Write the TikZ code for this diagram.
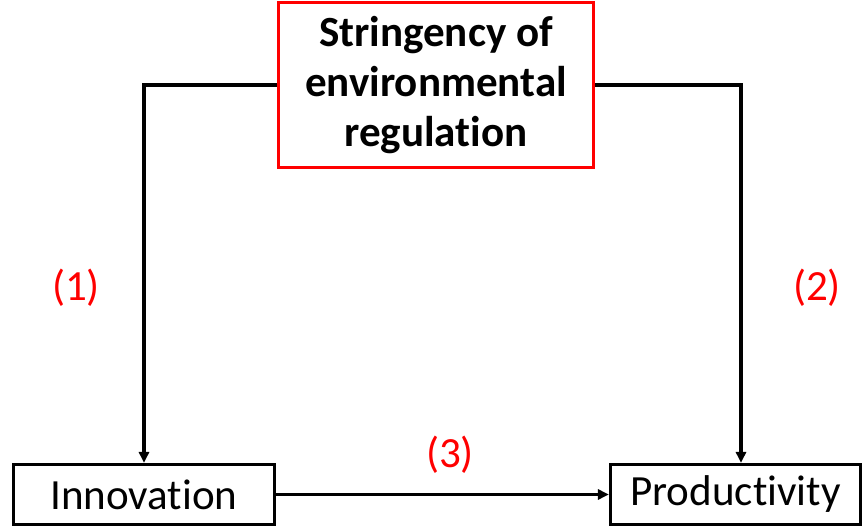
\documentclass[tikz,border=0pt]{standalone}
\usepackage{fontspec}
\setmainfont{Carlito}[Ligatures=NoCommon]
\usetikzlibrary{arrows.meta}

\begin{document}
\begin{tikzpicture}[
  box/.style={draw, line width=1.8pt, minimum height=1.2cm, inner sep=0pt, font=\fontsize{24.5}{28.5}\selectfont},
  numlabel/.style={text=red, font=\fontsize{24.5}{28.5}\selectfont},
  conn/.style={draw=black, line width=2.2pt, -{Triangle[length=0.22cm,width=0.2cm]}}
]
\useasboundingbox (0,0) rectangle (17.28,10.56);

\node[box, draw=red, minimum width=6.31cm, minimum height=3.29cm, align=center, font=\fontsize{24.5}{28.5}\selectfont\bfseries] (reg) at (8.72,8.86) {Stringency of\\environmental\\regulation};

\node[box, minimum width=5.22cm] (inno) at (2.88,0.67) {Innovation};

\node[box, minimum width=5.0cm] (prod) at (14.71,0.67) {Productivity};

\coordinate (rcorner) at (14.82,8.86);

\draw[conn] (reg.west) -| (inno.north);

\draw[conn] (reg.east) -- (rcorner) -- (rcorner |- prod.north);

\draw[conn] (inno.east) -- (prod.west);

\node[numlabel] (l1) at (1.52,4.8) {(1)};

\node[numlabel] (l2) at (16.34,4.8) {(2)};

\node[numlabel] (l3) at (9.0,1.46) {(3)};

\end{tikzpicture}
\end{document}
